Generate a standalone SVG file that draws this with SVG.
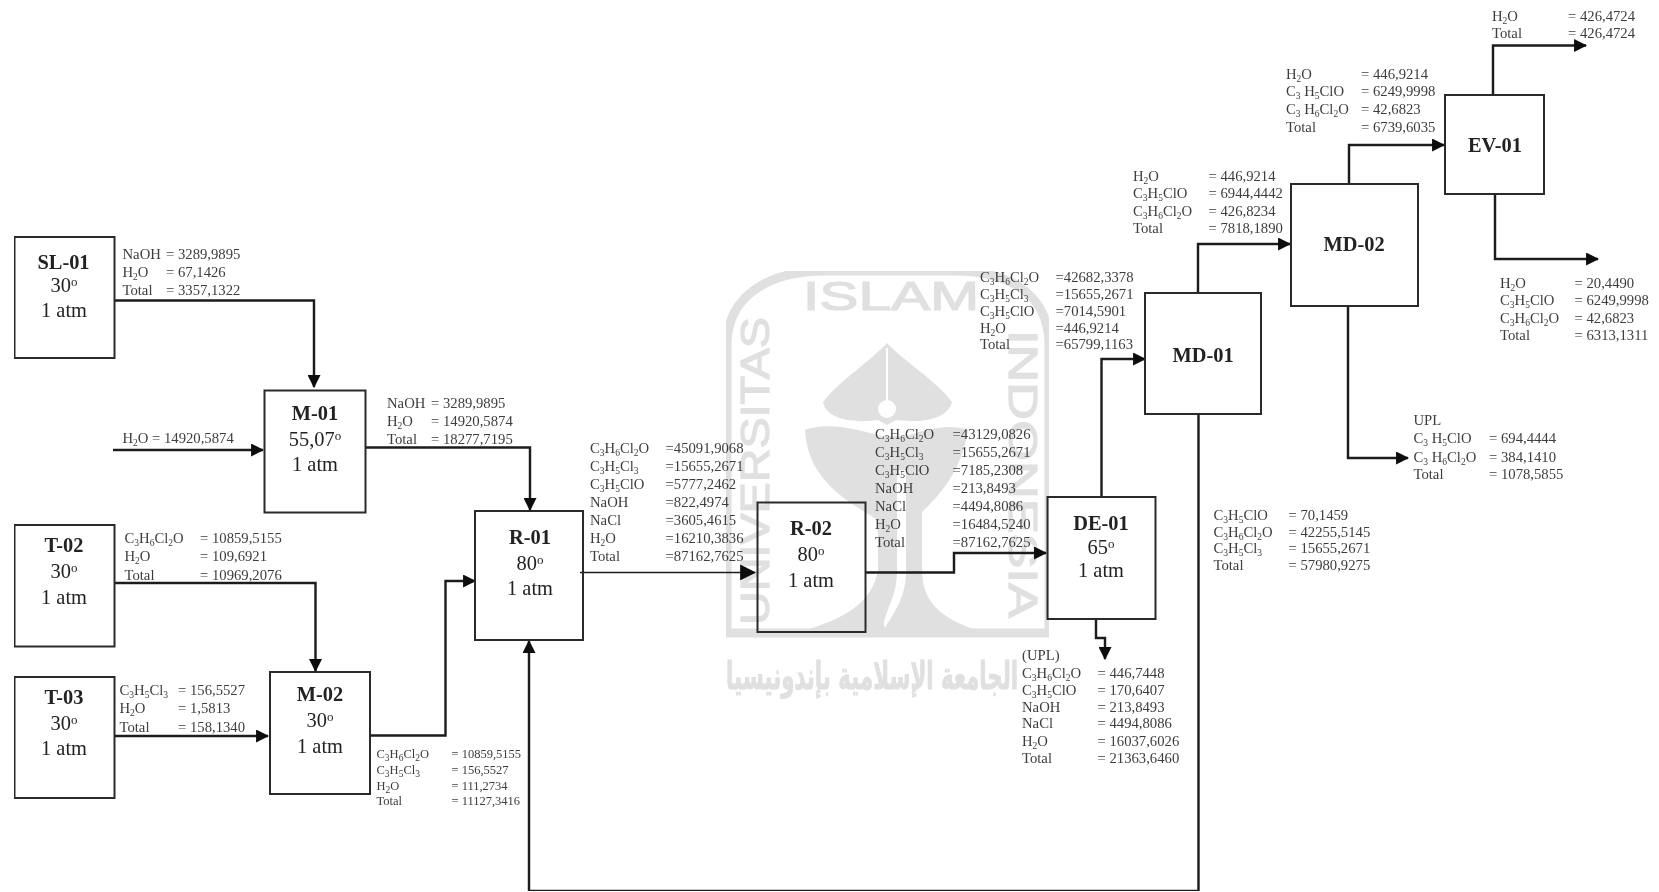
<svg xmlns="http://www.w3.org/2000/svg" width="1659" height="892" viewBox="0 0 1659 892">
<style>
text{font-family:"Liberation Serif","Times New Roman",serif}
.box{fill:none;stroke:#2a2a2a;stroke-width:2}
.n{font-size:20.4px;fill:#222;text-anchor:middle}
.h{font-weight:bold}
.sup{font-size:13px;baseline-shift:6px}
.t{font-size:14.7px;fill:#3c3c3c}
.u{font-size:12.5px;fill:#3c3c3c}
.b{font-size:9.5px;baseline-shift:-3px}
.c{fill:none;stroke:#1c1c1c;stroke-width:2.4}
.w{fill:#e0e0e0}
.ws{fill:none;stroke:#e0e0e0}
.wt{font-family:"Liberation Sans",Arial,sans-serif;fill:#e0e0e0;stroke:#e0e0e0;stroke-width:1.2;font-size:40px}
</style>
<defs>
<marker id="a" viewBox="0 0 12 12" refX="11" refY="6" markerUnits="userSpaceOnUse" markerWidth="13" markerHeight="13" orient="auto"><path d="M0,0L12,6L0,12Z" fill="#111"/></marker>
<marker id="al" viewBox="0 0 14 14" refX="13" refY="7" markerUnits="userSpaceOnUse" markerWidth="16" markerHeight="17" orient="auto"><path d="M0,0L14,7L0,14Z" fill="#111"/></marker>
<filter id="soft" x="0" y="0" width="100%" height="100%"><feGaussianBlur stdDeviation="0.5"/></filter>
</defs>
<rect width="1659" height="892" fill="#fff"/>
<g id="watermark" filter="url(#soft)">
<path class="ws" stroke-width="9" d="M727,633V345C727,295 770,271 825,271H955C1010,271 1049,295 1049,345V633Z"/>
<text class="wt" x="803" y="310" textLength="176" lengthAdjust="spacingAndGlyphs">ISLAM</text>
<text class="wt" transform="translate(769,625) rotate(-90)" textLength="308" lengthAdjust="spacingAndGlyphs">UNIVERSITAS</text>
<text class="wt" transform="translate(1009,330) rotate(90)" textLength="288" lengthAdjust="spacingAndGlyphs">INDONESIA</text>
<path class="w" d="M887,343C872,360 840,380 823,402C826,418 850,424 878,420L887,425L896,420C925,424 948,418 952,402C936,380 902,360 887,343Z"/>
<path d="M887,348V400" stroke="#fff" stroke-width="2"/>
<circle cx="887" cy="409" r="9" fill="#fff"/>
<path class="w" d="M805,430C825,422 855,428 880,436L907,436C930,428 950,424 968,430C962,470 940,495 922,512V570C922,605 945,622 990,634H790C840,622 872,605 878,570V520C845,500 808,480 805,430Z"/>
<path d="M906,470V572C906,600 890,618 885,628C880,618 897,600 897,572V470Z" fill="#fff"/>
<text x="872" y="689" text-anchor="middle" direction="rtl" textLength="292" lengthAdjust="spacingAndGlyphs" style="font-family:'DejaVu Sans',sans-serif;font-size:38px;font-weight:bold;fill:#e0e0e0;stroke:#e0e0e0;stroke-width:1">الجامعة الإسلامية بإندونيسيا</text>
</g>
<g filter="url(#soft)">
<g id="connectors">
<path class="c" marker-end="url(#a)" d="M114,300.5H314V387"/>
<path class="c" marker-end="url(#a)" d="M113,450H263"/>
<path class="c" marker-end="url(#a)" d="M365,447.5H530V510"/>
<path class="c" marker-end="url(#a)" d="M114,583H315.5V671"/>
<path class="c" marker-end="url(#a)" d="M114,736H268"/>
<path class="c" marker-end="url(#a)" d="M370,735.5H445.5V581H475"/>
<path class="c" style="stroke-width:1.6" marker-end="url(#al)" d="M580,572.5H755"/>
<path class="c" marker-end="url(#a)" d="M865.5,572.5H954V553H1046"/>
<path class="c" marker-end="url(#a)" d="M1101.5,497V359H1145"/>
<path class="c" marker-end="url(#a)" d="M1096,619V638H1105V659"/>
<path class="c" marker-end="url(#a)" d="M1198,293V244H1290"/>
<path class="c" marker-end="url(#a)" d="M1198.5,414V891H529V641"/>
<path class="c" marker-end="url(#a)" d="M1349,184V145H1444"/>
<path class="c" marker-end="url(#a)" d="M1348,306V458H1408"/>
<path class="c" marker-end="url(#a)" d="M1493,95V45.5H1586"/>
<path class="c" marker-end="url(#a)" d="M1495,194V259H1598"/>
</g>
<g id="SL-01"><rect class="box" x="14.5" y="237" width="100" height="121"/>
<text class="n h" x="63.5" y="269">SL-01</text><text class="n" x="64" y="292">30<tspan class="sup">o</tspan></text><text class="n" x="64" y="317">1 atm</text></g>
<g id="M-01"><rect class="box" x="264.5" y="390.5" width="101" height="122"/>
<text class="n h" x="315" y="420">M-01</text><text class="n" x="315" y="446">55,07<tspan class="sup">o</tspan></text><text class="n" x="315" y="471">1 atm</text></g>
<g id="T-02"><rect class="box" x="14.5" y="525" width="100" height="121.5"/>
<text class="n h" x="64" y="552">T-02</text><text class="n" x="64" y="578">30<tspan class="sup">o</tspan></text><text class="n" x="64" y="604">1 atm</text></g>
<g id="T-03"><rect class="box" x="14.5" y="677" width="100" height="121"/>
<text class="n h" x="64" y="704">T-03</text><text class="n" x="64" y="730">30<tspan class="sup">o</tspan></text><text class="n" x="64" y="755">1 atm</text></g>
<g id="M-02"><rect class="box" x="270" y="672" width="100" height="122"/>
<text class="n h" x="320" y="701">M-02</text><text class="n" x="320" y="727">30<tspan class="sup">o</tspan></text><text class="n" x="320" y="753">1 atm</text></g>
<g id="R-01"><rect class="box" x="475" y="511" width="108" height="129"/>
<text class="n h" x="530" y="544">R-01</text><text class="n" x="530" y="570">80<tspan class="sup">o</tspan></text><text class="n" x="530" y="595">1 atm</text></g>
<g id="R-02"><rect class="box" x="757.5" y="502.5" width="108" height="129.5"/>
<text class="n h" x="811" y="535">R-02</text><text class="n" x="811" y="561">80<tspan class="sup">o</tspan></text><text class="n" x="811" y="587">1 atm</text></g>
<g id="DE-01"><rect class="box" x="1047.5" y="497" width="108" height="122"/>
<text class="n h" x="1101" y="530">DE-01</text><text class="n" x="1101" y="554">65<tspan class="sup">o</tspan></text><text class="n" x="1101" y="577">1 atm</text></g>
<g id="MD-01"><rect class="box" x="1145" y="293" width="116" height="121"/>
<text class="n h" x="1203" y="362">MD-01</text></g>
<g id="MD-02"><rect class="box" x="1291" y="184" width="127" height="122"/>
<text class="n h" x="1354" y="251">MD-02</text></g>
<g id="EV-01"><rect class="box" x="1445" y="95" width="99" height="99"/>
<text class="n h" x="1495" y="152">EV-01</text></g>
<g id="stream-labels" class="t">
<text y="259"><tspan x="122.5">NaOH</tspan><tspan x="166">= 3289,9895</tspan></text>
<text y="277"><tspan x="122.5">H<tspan class="b">2</tspan>O</tspan><tspan x="166">= 67,1426</tspan></text>
<text y="295"><tspan x="122.5">Total</tspan><tspan x="166">= 3357,1322</tspan></text>
<text y="443"><tspan x="122.5">H<tspan class="b">2</tspan>O</tspan><tspan x="152">= 14920,5874</tspan></text>
<text y="408"><tspan x="387">NaOH</tspan><tspan x="431">= 3289,9895</tspan></text>
<text y="426"><tspan x="387">H<tspan class="b">2</tspan>O</tspan><tspan x="431">= 14920,5874</tspan></text>
<text y="444"><tspan x="387">Total</tspan><tspan x="431">= 18277,7195</tspan></text>
<text y="543"><tspan x="124.5">C<tspan class="b">3</tspan>H<tspan class="b">6</tspan>Cl<tspan class="b">2</tspan>O</tspan><tspan x="200">= 10859,5155</tspan></text>
<text y="561"><tspan x="124.5">H<tspan class="b">2</tspan>O</tspan><tspan x="200">= 109,6921</tspan></text>
<text y="580"><tspan x="124.5">Total</tspan><tspan x="200">= 10969,2076</tspan></text>
<text y="695"><tspan x="119.5">C<tspan class="b">3</tspan>H<tspan class="b">5</tspan>Cl<tspan class="b">3</tspan></tspan><tspan x="178">= 156,5527</tspan></text>
<text y="713"><tspan x="119.5">H<tspan class="b">2</tspan>O</tspan><tspan x="178">= 1,5813</tspan></text>
<text y="732"><tspan x="119.5">Total</tspan><tspan x="178">= 158,1340</tspan></text>
<text class="u" y="758"><tspan x="376.5">C<tspan class="b">3</tspan>H<tspan class="b">6</tspan>Cl<tspan class="b">2</tspan>O</tspan><tspan x="451.5">= 10859,5155</tspan></text>
<text class="u" y="774"><tspan x="376.5">C<tspan class="b">3</tspan>H<tspan class="b">5</tspan>Cl<tspan class="b">3</tspan></tspan><tspan x="451.5">= 156,5527</tspan></text>
<text class="u" y="790"><tspan x="376.5">H<tspan class="b">2</tspan>O</tspan><tspan x="451.5">= 111,2734</tspan></text>
<text class="u" y="805"><tspan x="376.5">Total</tspan><tspan x="451.5">= 11127,3416</tspan></text>
<text y="453"><tspan x="590">C<tspan class="b">3</tspan>H<tspan class="b">6</tspan>Cl<tspan class="b">2</tspan>O</tspan><tspan x="665.5">=45091,9068</tspan></text>
<text y="471"><tspan x="590">C<tspan class="b">3</tspan>H<tspan class="b">5</tspan>Cl<tspan class="b">3</tspan></tspan><tspan x="665.5">=15655,2671</tspan></text>
<text y="489"><tspan x="590">C<tspan class="b">3</tspan>H<tspan class="b">5</tspan>ClO</tspan><tspan x="665.5">=5777,2462</tspan></text>
<text y="507"><tspan x="590">NaOH</tspan><tspan x="665.5">=822,4974</tspan></text>
<text y="525"><tspan x="590">NaCl</tspan><tspan x="665.5">=3605,4615</tspan></text>
<text y="543"><tspan x="590">H<tspan class="b">2</tspan>O</tspan><tspan x="665.5">=16210,3836</tspan></text>
<text y="561"><tspan x="590">Total</tspan><tspan x="665.5">=87162,7625</tspan></text>
<text y="439"><tspan x="875">C<tspan class="b">3</tspan>H<tspan class="b">6</tspan>Cl<tspan class="b">2</tspan>O</tspan><tspan x="952.5">=43129,0826</tspan></text>
<text y="457"><tspan x="875">C<tspan class="b">3</tspan>H<tspan class="b">5</tspan>Cl<tspan class="b">3</tspan></tspan><tspan x="952.5">=15655,2671</tspan></text>
<text y="475"><tspan x="875">C<tspan class="b">3</tspan>H<tspan class="b">5</tspan>ClO</tspan><tspan x="952.5">=7185,2308</tspan></text>
<text y="493"><tspan x="875">NaOH</tspan><tspan x="952.5">=213,8493</tspan></text>
<text y="511"><tspan x="875">NaCl</tspan><tspan x="952.5">=4494,8086</tspan></text>
<text y="529"><tspan x="875">H<tspan class="b">2</tspan>O</tspan><tspan x="952.5">=16484,5240</tspan></text>
<text y="547"><tspan x="875">Total</tspan><tspan x="952.5">=87162,7625</tspan></text>
<text y="282"><tspan x="980">C<tspan class="b">3</tspan>H<tspan class="b">6</tspan>Cl<tspan class="b">2</tspan>O</tspan><tspan x="1055.5">=42682,3378</tspan></text>
<text y="299"><tspan x="980">C<tspan class="b">3</tspan>H<tspan class="b">5</tspan>Cl<tspan class="b">3</tspan></tspan><tspan x="1055.5">=15655,2671</tspan></text>
<text y="316"><tspan x="980">C<tspan class="b">3</tspan>H<tspan class="b">5</tspan>ClO</tspan><tspan x="1055.5">=7014,5901</tspan></text>
<text y="333"><tspan x="980">H<tspan class="b">2</tspan>O</tspan><tspan x="1055.5">=446,9214</tspan></text>
<text y="349"><tspan x="980">Total</tspan><tspan x="1055.5">=65799,1163</tspan></text>
<text y="181"><tspan x="1133">H<tspan class="b">2</tspan>O</tspan><tspan x="1208.5">= 446,9214</tspan></text>
<text y="198"><tspan x="1133">C<tspan class="b">3</tspan>H<tspan class="b">5</tspan>ClO</tspan><tspan x="1208.5">= 6944,4442</tspan></text>
<text y="216"><tspan x="1133">C<tspan class="b">3</tspan>H<tspan class="b">6</tspan>Cl<tspan class="b">2</tspan>O</tspan><tspan x="1208.5">= 426,8234</tspan></text>
<text y="233"><tspan x="1133">Total</tspan><tspan x="1208.5">= 7818,1890</tspan></text>
<text y="79"><tspan x="1286">H<tspan class="b">2</tspan>O</tspan><tspan x="1361">= 446,9214</tspan></text>
<text y="96"><tspan x="1286">C<tspan class="b">3</tspan> H<tspan class="b">5</tspan>ClO</tspan><tspan x="1361">= 6249,9998</tspan></text>
<text y="114"><tspan x="1286">C<tspan class="b">3</tspan> H<tspan class="b">6</tspan>Cl<tspan class="b">2</tspan>O</tspan><tspan x="1361">= 42,6823</tspan></text>
<text y="132"><tspan x="1286">Total</tspan><tspan x="1361">= 6739,6035</tspan></text>
<text y="21"><tspan x="1492">H<tspan class="b">2</tspan>O</tspan><tspan x="1568">= 426,4724</tspan></text>
<text y="38"><tspan x="1492">Total</tspan><tspan x="1568">= 426,4724</tspan></text>
<text y="288"><tspan x="1500">H<tspan class="b">2</tspan>O</tspan><tspan x="1574.5">= 20,4490</tspan></text>
<text y="305"><tspan x="1500">C<tspan class="b">3</tspan>H<tspan class="b">5</tspan>ClO</tspan><tspan x="1574.5">= 6249,9998</tspan></text>
<text y="323"><tspan x="1500">C<tspan class="b">3</tspan>H<tspan class="b">6</tspan>Cl<tspan class="b">2</tspan>O</tspan><tspan x="1574.5">= 42,6823</tspan></text>
<text y="340"><tspan x="1500">Total</tspan><tspan x="1574.5">= 6313,1311</tspan></text>
<text y="425"><tspan x="1413.5">UPL</tspan></text>
<text y="443"><tspan x="1413.5">C<tspan class="b">3</tspan> H<tspan class="b">5</tspan>ClO</tspan><tspan x="1489">=  694,4444</tspan></text>
<text y="462"><tspan x="1413.5">C<tspan class="b">3</tspan> H<tspan class="b">6</tspan>Cl<tspan class="b">2</tspan>O</tspan><tspan x="1489">= 384,1410</tspan></text>
<text y="479"><tspan x="1413.5">Total</tspan><tspan x="1489">= 1078,5855</tspan></text>
<text y="520"><tspan x="1213.5">C<tspan class="b">3</tspan>H<tspan class="b">5</tspan>ClO</tspan><tspan x="1288.5">= 70,1459</tspan></text>
<text y="537"><tspan x="1213.5">C<tspan class="b">3</tspan>H<tspan class="b">6</tspan>Cl<tspan class="b">2</tspan>O</tspan><tspan x="1288.5">= 42255,5145</tspan></text>
<text y="553"><tspan x="1213.5">C<tspan class="b">3</tspan>H<tspan class="b">5</tspan>Cl<tspan class="b">3</tspan></tspan><tspan x="1288.5">= 15655,2671</tspan></text>
<text y="570"><tspan x="1213.5">Total</tspan><tspan x="1288.5">= 57980,9275</tspan></text>
<text y="660"><tspan x="1022">(UPL)</tspan></text>
<text y="678"><tspan x="1022">C<tspan class="b">3</tspan>H<tspan class="b">6</tspan>Cl<tspan class="b">2</tspan>O</tspan><tspan x="1097.5">= 446,7448</tspan></text>
<text y="695"><tspan x="1022">C<tspan class="b">3</tspan>H<tspan class="b">5</tspan>ClO</tspan><tspan x="1097.5">= 170,6407</tspan></text>
<text y="712"><tspan x="1022">NaOH</tspan><tspan x="1097.5">= 213,8493</tspan></text>
<text y="728"><tspan x="1022">NaCl</tspan><tspan x="1097.5">= 4494,8086</tspan></text>
<text y="746"><tspan x="1022">H<tspan class="b">2</tspan>O</tspan><tspan x="1097.5">= 16037,6026</tspan></text>
<text y="763"><tspan x="1022">Total</tspan><tspan x="1097.5">= 21363,6460</tspan></text>
</g>
</g>
</svg>
